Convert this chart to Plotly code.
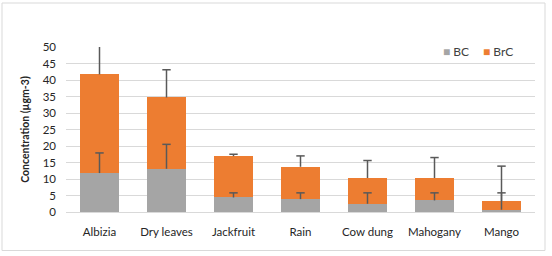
import plotly.graph_objects as go

categories = ["Albizia", "Dry leaves", "Jackfruit", "Rain", "Cow dung", "Mahogany", "Mango"]
bc = [11.8, 13.1, 4.4, 3.9, 2.5, 3.5, 0.7]
brc = [29.9, 21.6, 12.5, 9.8, 7.8, 6.8, 2.6]
bc_err = [6.1, 7.4, 1.4, 1.9, 3.3, 2.3, 5.1]
total_err = [9.0, 8.4, 0.6, 3.3, 5.3, 6.2, 10.6]
y_ticks = [0, 5, 10, 15, 20, 25, 30, 35, 40, 45, 50]

W, H = 552, 256
L, R, T, B = 66, 17, 47, 44
pw, ph = W - L - R, H - T - B

FONT = "Lato, Carlito, Calibri, sans-serif"
ERR_COLOR = "#595959"
BC_COLOR = "#A5A5A5"
BRC_COLOR = "#ED7D31"

totals = [a + b for a, b in zip(bc, brc)]

fig = go.Figure()
fig.add_trace(go.Bar(name="BC", x=categories, y=bc, marker_color=BC_COLOR,
                     marker_line_width=0))
fig.add_trace(go.Bar(name="BrC", x=categories, y=brc, marker_color=BRC_COLOR,
                     marker_line_width=0))

# error bars (upper only, cap at the end) drawn above the bars
def add_err(base, err):
    xs, ys = [], []
    for c, b, e in zip(categories, base, err):
        xs += [c, c, None]
        ys += [b, b + e, None]
    fig.add_trace(go.Scatter(x=xs, y=ys, mode="lines", line=dict(color=ERR_COLOR, width=1.5),
                             showlegend=False, hoverinfo="skip"))
    fig.add_trace(go.Scatter(x=categories, y=[b + e for b, e in zip(base, err)], mode="markers",
                             marker=dict(symbol="line-ew", size=6,
                                         line=dict(color=ERR_COLOR, width=1.5)),
                             showlegend=False, hoverinfo="skip"))

add_err(bc, bc_err)
add_err(totals, total_err)

def px_x(p):
    return (p - L) / pw

def px_y(p):
    return (H - B - p) / ph

fig.update_layout(
    width=W, height=H,
    margin=dict(l=L, r=R, t=T, b=B, autoexpand=False),
    barmode="stack",
    bargap=0.43,
    showlegend=False,
    plot_bgcolor="white",
    paper_bgcolor="white",
    font=dict(family=FONT, size=11, color="#404040"),
    xaxis=dict(showgrid=False, showline=False, ticks="", ticklabelstandoff=11,
               tickfont=dict(size=11.5, color="#262626")),
    yaxis=dict(range=[0, 50], tickvals=y_ticks, showgrid=True, gridcolor="#D9D9D9",
               gridwidth=1, zeroline=True, zerolinecolor="#D9D9D9", zerolinewidth=1,
               showline=False, ticks="", ticklabelstandoff=9,
               tickfont=dict(size=11.5, color="#262626"),
               title=dict(text="<b>Concentration (µgm-3)</b>", standoff=10,
                          font=dict(size=10.5, color="#262626"))),
    annotations=[
        dict(xref="paper", yref="paper", x=px_x(441), y=px_y(52), xanchor="left", yanchor="middle",
             showarrow=False, text=f"<span style='color:{BC_COLOR}'>■</span> BC",
             font=dict(size=12, color="#404040")),
        dict(xref="paper", yref="paper", x=px_x(481), y=px_y(52), xanchor="left", yanchor="middle",
             showarrow=False, text=f"<span style='color:{BRC_COLOR}'>■</span> BrC",
             font=dict(size=12, color="#404040")),
    ],
    shapes=[dict(type="rect", xref="paper", yref="paper",
                 x0=px_x(2), x1=px_x(545), y0=px_y(250.5), y1=px_y(3),
                 line=dict(color="#D9D9D9", width=1), fillcolor="rgba(0,0,0,0)", layer="below")],
)

fig.write_html("out.html", config={"displayModeBar": False},
               post_script="document.body.style.margin='0';document.body.style.overflow='hidden';")
